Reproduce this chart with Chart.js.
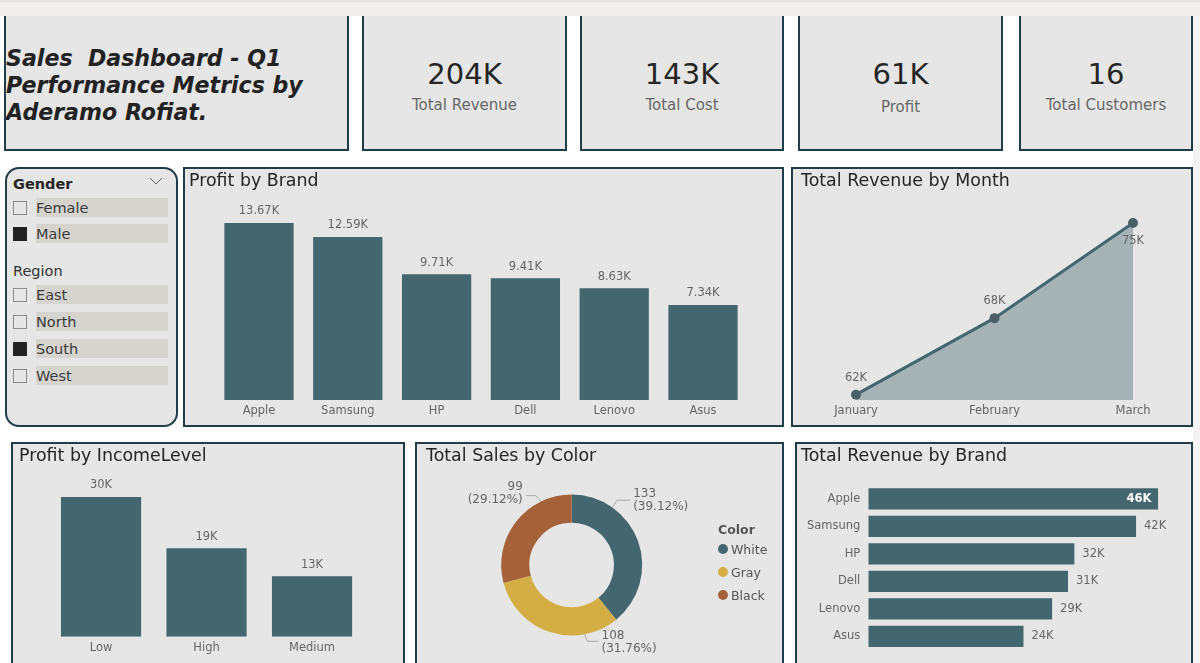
<!DOCTYPE html>
<html>
<head>
<meta charset="utf-8">
<title>Sales Dashboard</title>
<script src="https://cdn.jsdelivr.net/npm/chart.js@4"></script>
<style>
  html, body { margin: 0; padding: 0; background: #fff; }
  body { position: relative; width: 1200px; height: 663px; overflow: hidden; font-family: "DejaVu Sans", sans-serif; }
  .strip { position: absolute; left: 0; top: 0; width: 1200px; height: 16px; background: #f0efeb; border-top: 2px solid #e4e4e2; box-sizing: border-box; }
  .sidebar { position: absolute; left: 1193px; top: 16px; width: 7px; height: 647px; background: #f4f4f4; }
  .panel { position: absolute; background: #e6e6e6; border: 2px solid #1f3d4b; box-sizing: border-box; overflow: hidden; }
  .panel.open { border-top: none; }
  .panel canvas { position: absolute; left: -2px; top: -2px; }
  .panel h2 { position: absolute; margin: 0; left: 4px; top: 1px; font-size: 17.4px; font-weight: normal; color: #252525; white-space: nowrap; z-index: 2; }
  .headline { position: absolute; left: 0; top: 29px; font-size: 22.1px; line-height: 27px; font-weight: bold; font-style: italic; color: #222; white-space: pre; }
  .kpi { position: absolute; left: 0; right: 0; text-align: center; }
  .kpi b { position: absolute; left: 0; right: 0; top: 38px; font-size: 29px; line-height: 40px; font-weight: normal; color: #252525; }
  .kpi span { position: absolute; left: 0; right: 0; top: 79px; font-size: 15px; line-height: 20px; color: #666; }
  .slicer { position: absolute; left: 5px; top: 167px; width: 173px; height: 260px; background: #e6e6e6; border: 2px solid #1f3d4b; border-radius: 14px; box-sizing: border-box; }
  .slicer .head { position: absolute; left: 6px; font-size: 14.5px; line-height: 18px; color: #333; }
  .slicer .head.bold { font-weight: bold; color: #252525; }
  .slicer .row { position: absolute; left: 29px; width: 132px; height: 19px; background: #d6d4cf; font-size: 14.5px; line-height: 20px; color: #3a3a3a; white-space: nowrap; }
  .slicer .box { position: absolute; left: 6px; width: 14px; height: 14px; border: 1px solid #8b8b8b; box-sizing: border-box; }
  .slicer .box.on { background: #222; border-color: #222; }
  .slicer svg { position: absolute; left: 142px; top: 8px; }
  .legend { position: absolute; left: 718px; top: 521px; font-size: 12.5px; color: #555; z-index: 3; }
  .legend div { position: absolute; left: 0; white-space: nowrap; line-height: 18px; }
  .legend i { display: inline-block; width: 10px; height: 10px; border-radius: 50%; margin-right: 3px; margin-left: 0; }
</style>
</head>
<body>
<div class="strip"></div>
<div class="sidebar"></div>

<div class="panel open" style="left:4px;top:16px;width:345px;height:135px"><div class="headline" id="headline"></div></div>
<div id="kpis"></div>

<div class="slicer" id="slicer">
  <svg width="14" height="8"><polyline points="1,1 7,7 13,1" fill="none" stroke="#666" stroke-width="1"/></svg>
</div>

<div class="panel" style="left:183px;top:167px;width:601px;height:260px"><h2>Profit by Brand</h2><canvas id="profitBrandChart" width="601" height="260"></canvas></div>
<div class="panel" style="left:791px;top:167px;width:402px;height:260px"><h2 style="left:8px">Total Revenue by Month</h2><canvas id="monthChart" width="402" height="260"></canvas></div>
<div class="panel" style="left:11px;top:442px;width:394px;height:223px"><h2 style="left:6px">Profit by IncomeLevel</h2><canvas id="incomeChart" width="394" height="223"></canvas></div>
<div class="panel" style="left:415px;top:442px;width:369px;height:223px"><h2 style="left:9px">Total Sales by Color</h2><canvas id="colorChart" width="369" height="223"></canvas></div>
<div class="panel" style="left:795px;top:442px;width:398px;height:223px"><h2 style="left:4px">Total Revenue by Brand</h2><canvas id="revenueBrandChart" width="398" height="223"></canvas></div>
<div class="legend" id="legend"></div>

<script>
const brands = ['Apple', 'Samsung', 'HP', 'Dell', 'Lenovo', 'Asus'];
const profitByBrand = [13.67, 12.59, 9.71, 9.41, 8.63, 7.34];
const revenueByBrand = [45.6, 42.1, 32.4, 31.4, 28.9, 24.4];

const months = ['January', 'February', 'March'];
const revenueByMonth = [62, 67.75, 74.9];

const incomeLevels = ['Low', 'High', 'Medium'];
const profitByIncome = [30, 19, 13];

const colorNames = ['White', 'Gray', 'Black'];
const salesByColor = [133, 108, 99];
const salesPercent = ['39.12', '31.76', '29.12'];

const kpiValues = ['204K', '143K', '61K', '16'];
const kpiNames = ['Total Revenue', 'Total Cost', 'Profit', 'Total Customers'];

const genders = ['Female', 'Male'];
const regions = ['East', 'North', 'South', 'West'];

const TEAL = '#43666f';
const LABEL = '#666';
const FONT = '"DejaVu Sans", sans-serif';
const donutColors = [TEAL, '#d4ae45', '#a5613a'];
const AXIS_BAND = 22;

// ---- Page furniture ----
document.getElementById('headline').textContent = 'Sales  Dashboard - Q1\nPerformance Metrics by\nAderamo Rofiat.';

const kpiBoxes = [[362, 205], [580, 204], [798, 205], [1019, 174]];
kpiBoxes.forEach(([left, width], i) => {
  const p = document.createElement('div');
  p.className = 'panel open';
  p.style.cssText = `left:${left}px;top:16px;width:${width}px;height:135px`;
  const shift = i === 2 ? 2 : 0;
  p.innerHTML = `<div class="kpi"><b>${kpiValues[i]}</b><span style="margin-top:${shift}px">${kpiNames[i]}</span></div>`;
  document.body.appendChild(p);
});

const slicer = document.getElementById('slicer');
function slicerRow(name, top, on) {
  slicer.insertAdjacentHTML('beforeend',
    `<div class="box${on ? ' on' : ''}" style="top:${top + 3}px"></div><div class="row" style="top:${top}px">${name}</div>`);
}
slicer.insertAdjacentHTML('beforeend', '<div class="head bold" style="top:6px">Gender</div><div class="head" style="top:93px">Region</div>');
[29, 55].forEach((top, i) => slicerRow(genders[i], top, genders[i] === 'Male'));
[116, 143, 170, 197].forEach((top, i) => slicerRow(regions[i], top, regions[i] === 'South'));

const legend = document.getElementById('legend');
legend.innerHTML = '<div style="top:0;font-weight:bold">Color</div>' +
  colorNames.map((c, i) => `<div style="top:${20 + i * 23}px"><i style="background:${donutColors[i]}"></i>${c}</div>`).join('');

// ---- Value labels on the marks ----
const valueLabels = {
  id: 'valueLabels',
  afterDatasetsDraw(chart, args, opts) {
    if (!opts.text) return;
    const c = chart.ctx;
    c.save();
    c.textBaseline = 'middle';
    chart.getDatasetMeta(0).data.forEach((el, i) => {
      const o = opts.place(el, i);
      c.fillStyle = o.color || LABEL;
      c.font = `${o.bold ? 'bold ' : ''}11.5px ${FONT}`;
      c.textAlign = o.align || 'center';
      c.fillText(opts.text[i], o.x, o.y);
    });
    c.restore();
  }
};

// ---- Donut labels with leader lines ----
const leaderAngles = [35, 169.5, -26];
const leaderElbow = [[5, -7], [3, 7], [-5, -6]];
const leaderEnd = [13, 11, -10];
const labelLift = [-6, -5, -8.5];
const donutLabels = {
  id: 'donutLabels',
  afterDatasetsDraw(chart) {
    const c = chart.ctx;
    c.save();
    c.font = `12px ${FONT}`;
    c.textBaseline = 'middle';
    chart.getDatasetMeta(0).data.forEach((arc, i) => {
      const a = leaderAngles[i] * Math.PI / 180;
      const sx = arc.x + Math.sin(a) * arc.outerRadius;
      const sy = arc.y - Math.cos(a) * arc.outerRadius;
      const ex = sx + leaderElbow[i][0];
      const ey = sy + leaderElbow[i][1];
      const tx = ex + leaderEnd[i];
      c.strokeStyle = '#aaa';
      c.lineWidth = 1;
      c.beginPath();
      c.moveTo(sx, sy);
      c.lineTo(ex, ey);
      c.lineTo(tx, ey);
      c.stroke();
      c.fillStyle = LABEL;
      const right = leaderEnd[i] < 0;
      c.textAlign = right ? 'right' : 'left';
      const lx = tx + (right ? -3 : 3);
      const ly = ey + labelLift[i];
      c.fillText(String(salesByColor[i]), lx, ly);
      c.fillText(`(${salesPercent[i]}%)`, lx, ly + 13);
    });
    c.restore();
  }
};

function axisFont() {
  return { family: FONT, size: 11.5 };
}

function columnChart(id, labels, values, text, pad, maxValue, pct) {
  return new Chart(document.getElementById(id), {
    type: 'bar',
    data: { labels, datasets: [{ data: values, backgroundColor: TEAL, categoryPercentage: pct, barPercentage: 1 }] },
    plugins: [valueLabels],
    options: {
      responsive: false,
      animation: false,
      layout: { padding: pad },
      plugins: {
        legend: { display: false },
        tooltip: { enabled: false },
        valueLabels: { text, place: el => ({ x: el.x, y: el.y - 11.5 }) }
      },
      scales: {
        x: {
          afterFit: s => { s.height = AXIS_BAND; },
          grid: { display: false, drawTicks: false },
          border: { display: false },
          ticks: { color: LABEL, font: axisFont(), padding: 4, maxRotation: 0, autoSkip: false }
        },
        y: { display: false, min: 0, max: maxValue }
      }
    }
  });
}

// ---- Profit by Brand ----
columnChart('profitBrandChart', brands, profitByBrand,
  profitByBrand.map(v => v.toFixed(2) + 'K'),
  { left: 31.6, right: 36.6, top: 56, bottom: 27 - AXIS_BAND }, 13.67, 0.78);

// ---- Profit by IncomeLevel ----
columnChart('incomeChart', incomeLevels, profitByIncome,
  profitByIncome.map(v => v + 'K'),
  { left: 37.3, right: 40.2, top: 55, bottom: 28.3 - AXIS_BAND }, 30, 0.76);

// ---- Total Revenue by Month ----
new Chart(document.getElementById('monthChart'), {
  type: 'line',
  data: {
    labels: months,
    datasets: [{
      data: revenueByMonth,
      borderColor: TEAL,
      borderWidth: 3,
      backgroundColor: 'rgba(67,102,111,0.4)',
      fill: 'start',
      tension: 0,
      clip: false,
      pointRadius: 5,
      pointBackgroundColor: '#4a6066',
      pointBorderWidth: 0
    }]
  },
  plugins: [valueLabels],
  options: {
    responsive: false,
    animation: false,
    layout: { padding: { left: 65, right: 60, top: 56, bottom: 27 - AXIS_BAND } },
    plugins: {
      legend: { display: false },
      tooltip: { enabled: false },
      valueLabels: {
        text: revenueByMonth.map(v => Math.round(v) + 'K'),
        place: (el, i) => ({ x: el.x, y: i === 2 ? el.y + 18 : el.y - 17 })
      }
    },
    scales: {
      x: {
        offset: false,
        afterFit: s => { s.height = AXIS_BAND; s.paddingLeft = 0; s.paddingRight = 0; },
        grid: { display: false, drawTicks: false },
        border: { display: false },
        ticks: { color: LABEL, font: axisFont(), padding: 4, maxRotation: 0, autoSkip: false }
      },
      y: { display: false, min: 61.6, max: 74.9 }
    }
  }
});

// ---- Total Sales by Color ----
new Chart(document.getElementById('colorChart'), {
  type: 'doughnut',
  data: { labels: colorNames, datasets: [{ data: salesByColor, backgroundColor: donutColors, borderWidth: 0 }] },
  plugins: [donutLabels],
  options: {
    responsive: false,
    animation: false,
    cutout: '60%',
    layout: { padding: { left: 86.2, right: 141.8, top: 52.5, bottom: 29.5 } },
    plugins: { legend: { display: false }, tooltip: { enabled: false } }
  }
});

// ---- Total Revenue by Brand ----
new Chart(document.getElementById('revenueBrandChart'), {
  type: 'bar',
  data: { labels: brands, datasets: [{ data: revenueByBrand, backgroundColor: TEAL, categoryPercentage: 0.77, barPercentage: 1 }] },
  plugins: [valueLabels],
  options: {
    indexAxis: 'y',
    responsive: false,
    animation: false,
    layout: { padding: { left: 3.3, right: 34.7, top: 43.2, bottom: 14.4 } },
    plugins: {
      legend: { display: false },
      tooltip: { enabled: false },
      valueLabels: {
        text: revenueByBrand.map(v => Math.round(v) + 'K'),
        place: (el, i) => i === 0
          ? { x: el.x - 7, y: el.y, align: 'right', color: '#fff', bold: true }
          : { x: el.x + 8, y: el.y, align: 'left' }
      }
    },
    scales: {
      x: { display: false, min: 0, max: 45.6 },
      y: {
        afterFit: s => { s.width = 70; },
        grid: { display: false, drawTicks: false },
        border: { display: false },
        ticks: { color: LABEL, font: axisFont(), padding: 8, autoSkip: false }
      }
    }
  }
});
</script>
</body>
</html>
